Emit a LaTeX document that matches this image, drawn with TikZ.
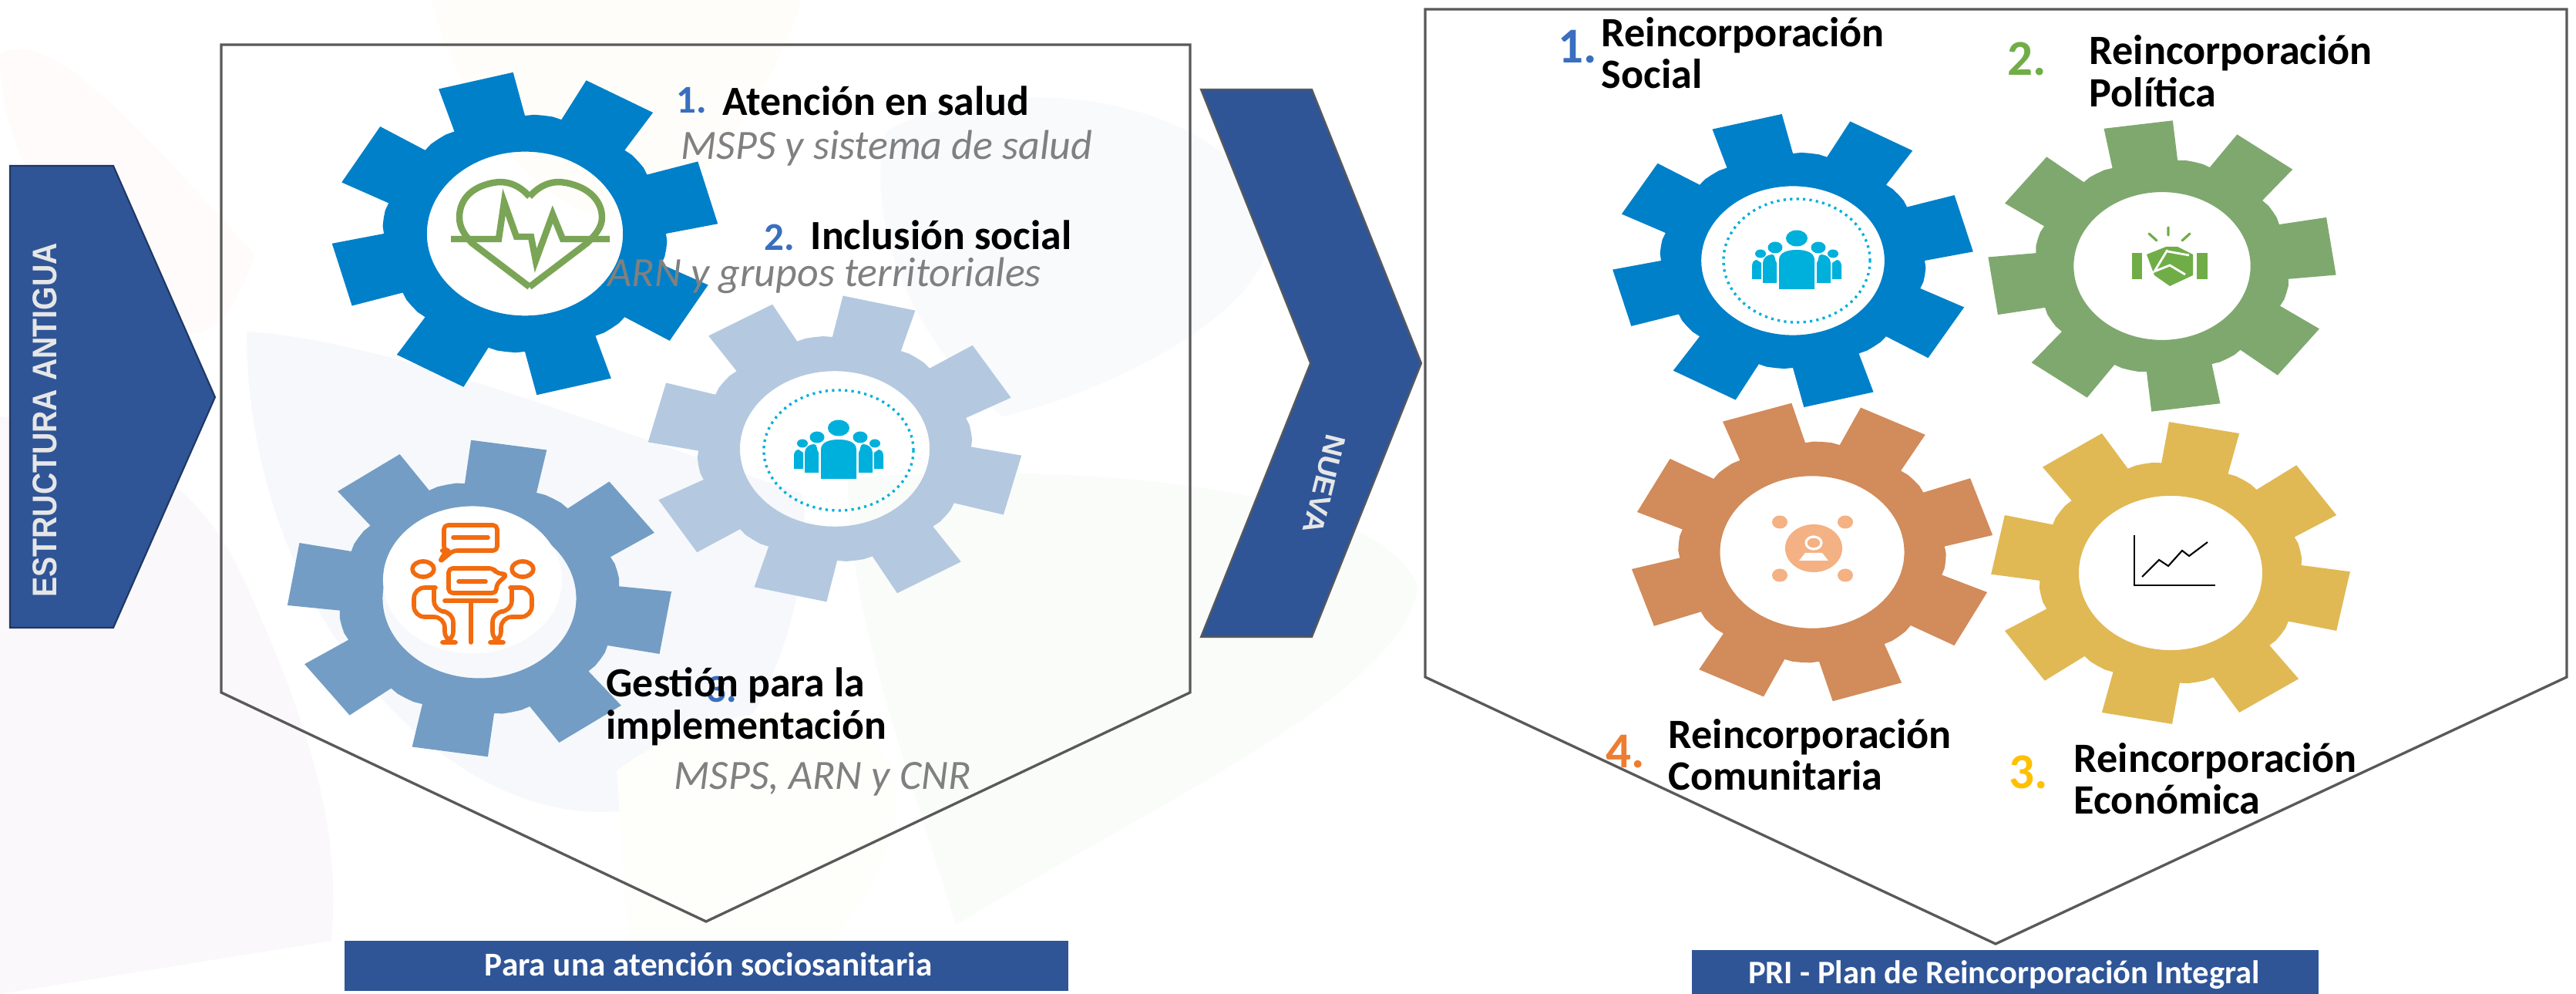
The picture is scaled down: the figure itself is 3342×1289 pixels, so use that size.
\documentclass[tikz,border=0pt]{standalone}
\usepackage{fontspec}
\usepackage{graphicx}
\setmainfont{Carlito}
\newfontfamily\arialf{Liberation Sans}
\definecolor{navy}{HTML}{2F5597}
\definecolor{navyedge}{HTML}{1F3864}
\definecolor{panelline}{HTML}{595959}
\definecolor{gblue}{HTML}{0080C8}
\definecolor{glight}{HTML}{B4C9E0}
\definecolor{gdark}{HTML}{739DC4}
\definecolor{ggreen}{HTML}{7FA86F}
\definecolor{gorange}{HTML}{D28B5A}
\definecolor{gyellow}{HTML}{E0B955}
\definecolor{cyanicon}{HTML}{00B0DC}
\definecolor{heartgreen}{HTML}{7AA556}
\definecolor{talkorange}{HTML}{F26B0F}
\definecolor{peach}{HTML}{F4B183}
\definecolor{shakegreen}{HTML}{70AD47}
\definecolor{numblue}{HTML}{3A6EBE}
\definecolor{numgreen}{HTML}{70AD47}
\definecolor{numorange}{HTML}{ED7D31}
\definecolor{numyellow}{HTML}{FFC000}
\definecolor{subgray}{HTML}{808080}
\definecolor{capgray}{HTML}{E6E6E6}
\definecolor{wmpink}{HTML}{FEFBFA}
\definecolor{wmyellow}{HTML}{FFFDF9}
\definecolor{wmlilac}{HTML}{FAF8FA}
\definecolor{wmblue}{HTML}{F6F8FB}
\definecolor{wmsky}{HTML}{F8FAFC}
\definecolor{wmgreen}{HTML}{FAFCFA}
\definecolor{wmcream}{HTML}{FEFEFA}
\newcommand{\gearshape}[7]{%
  \fill[#7,even odd rule] ({#1+#3*cos(#5-15)},{#2-#4*sin(#5-15)})
  \foreach \k in {0,...,7}{\foreach \o/\r in {-15/1,-11.5/1.37,11.5/1.37,15/1,18.75/1.01,22.5/1.01,26.25/1.01}{
    -- ({#1+#3*\r*cos(#5+45*\k+\o)},{#2-#4*\r*sin(#5+45*\k+\o)})}} -- cycle
  (#1,#2) ellipse [x radius=#6*#3*0.01cm,y radius=#6*#4*0.01cm];}
\newcommand{\peopleicon}[2]{%
  \begin{scope}[shift={(#1,#2)}]
  \fill[cyanicon] (0,0) ellipse [x radius=0.14cm,y radius=0.105cm];
  \fill[cyanicon] (-28,12) ellipse [x radius=0.095cm,y radius=0.075cm];
  \fill[cyanicon] (28,12) ellipse [x radius=0.095cm,y radius=0.075cm];
  \fill[cyanicon] (-47,20) ellipse [x radius=0.07cm,y radius=0.055cm];
  \fill[cyanicon] (47,20) ellipse [x radius=0.07cm,y radius=0.055cm];
  \fill[cyanicon] (-23,66) -- (-23,28) to[out=90,in=180] (0,15) to[out=0,in=90] (23,28) -- (23,66) -- cycle;
  \fill[cyanicon] (-26,58) -- (-26,32) to[out=130,in=0] (-32,21) to[out=180,in=90] (-44,32) -- (-44,58) -- cycle;
  \fill[cyanicon] (26,58) -- (26,32) to[out=50,in=180] (32,21) to[out=0,in=90] (44,32) -- (44,58) -- cycle;
  \fill[cyanicon] (-46,53) -- (-46,32) -- (-52,28) to[out=180,in=90] (-58,36) -- (-58,53) -- cycle;
  \fill[cyanicon] (46,53) -- (46,32) -- (52,28) to[out=0,in=90] (58,36) -- (58,53) -- cycle;
  \end{scope}}
\tikzset{
  panel/.style={draw=panelline,line width=0.95pt,line join=miter},
  chev/.style={fill=navy,draw=#1,line width=0.6pt},
  head/.style={anchor=base west,inner sep=0pt,yshift=-0.04cm,font=\bfseries\fontsize{15.3}{18}\selectfont,text=black},
  headr/.style={anchor=base west,inner sep=0pt,yshift=-0.05cm,font=\bfseries\fontsize{15.4}{18}\selectfont,text=black},
  sub/.style={anchor=base west,inner sep=0pt,yshift=-0.06cm,font=\itshape\fontsize{15.35}{18}\selectfont,text=subgray},
  numl/.style={anchor=base west,inner sep=0pt,yshift=-0.05cm,font=\bfseries\fontsize{14.5}{16}\selectfont,text=#1},
  numr/.style={anchor=base west,inner sep=0pt,yshift=-0.05cm,font=\bfseries\fontsize{18.5}{20}\selectfont,text=#1},
  caption/.style={anchor=base,inner sep=0pt,font=\bfseries\fontsize{#1}{14}\selectfont,text=white},
  dots/.style={draw=cyanicon,line width=0.95pt,dash pattern=on 0.9pt off 1.5pt}
}
\begin{document}
\begin{tikzpicture}[x=0.01cm,y=-0.01cm]
\useasboundingbox (0,0) rectangle (3342,1289);
\fill[white] (0,0) rectangle (3342,1289);
% faint watermark
\fill[wmpink] (0,70) .. controls (60,40) and (140,120) .. (330,330) .. controls (300,420) and (260,470) .. (180,400) .. controls (100,330) and (0,220) .. (0,70) -- cycle;
\fill[wmyellow] (560,0) -- (1040,0) .. controls (980,180) and (860,300) .. (780,280) .. controls (680,260) and (590,120) .. (560,0) -- cycle;
\fill[wmlilac] (0,540) .. controls (150,560) and (260,620) .. (320,760) .. controls (420,980) and (440,1100) .. (430,1220) -- (0,1289) -- cycle;
\fill[wmblue] (320,430) .. controls (500,440) and (800,560) .. (1040,640) .. controls (1060,740) and (1000,980) .. (860,1040) .. controls (620,1120) and (320,820) .. (320,430) -- cycle;
\fill[wmsky] (1150,170) .. controls (1300,90) and (1560,120) .. (1640,260) .. controls (1700,400) and (1400,520) .. (1300,540) .. controls (1180,440) and (1120,280) .. (1150,170) -- cycle;
\fill[wmgreen] (1100,620) .. controls (1350,600) and (1780,620) .. (1840,760) .. controls (1820,900) and (1500,1040) .. (1240,1200) .. controls (1180,1000) and (1100,800) .. (1100,620) -- cycle;
\fill[wmcream] (800,1000) .. controls (900,920) and (1100,880) .. (1160,1000) .. controls (1180,1100) and (1100,1220) .. (1000,1289) -- (820,1289) -- cycle;
% left arrow
\draw[chev=navyedge] (13,215) -- (147,215) -- (279,515) -- (147,814) -- (13,814) -- cycle;
\node[rotate=90,anchor=base,inner sep=0pt,text=capgray,font=\arialf\bfseries\fontsize{12.6}{14}\selectfont] (oldlabel) at (73,545) {\scalebox{0.885}[1]{ESTRUCTURA ANTIGUA}};
% left panel
\draw[panel] (287,58) -- (1544,58) -- (1544,898) -- (916,1195) -- (287,898) -- cycle;
% gears left
\gearshape{681}{303}{183}{153}{105}{0.695}{gblue}
\gearshape{1083}{582}{177}{145}{76}{0.695}{glight}
\gearshape{622}{776}{182}{150}{81}{0.69}{gdark}
% heart
\begin{scope}[heartgreen,line width=2.4pt,line join=miter]
\draw (687,255) .. controls (672,238) and (655,234) .. (640,237) .. controls (608,243) and (596,262) .. (596,282) .. controls (596,295) and (603,305) .. (612,315) -- (687,372);
\draw (687,255) .. controls (702,238) and (719,234) .. (734,237) .. controls (766,243) and (781,262) .. (781,282) .. controls (781,295) and (772,305) .. (762,315) -- (687,372);
\draw (585,310) -- (647,310) -- (654,262) -- (670,307) -- (689,307) -- (695,338) -- (717,278) -- (730,310) -- (791,310);
\end{scope}
\draw[dots] (1088,584) ellipse [x radius=0.97cm,y radius=0.78cm];
\peopleicon{1088}{555}
% talk icon
\fill[white] (613,752) ellipse [x radius=1.16cm,y radius=0.955cm];
\begin{scope}[talkorange,line width=1.6pt,line cap=round,line join=round]
\draw[rounded corners=1.5pt] (588,714) -- (570,729) -- (579,714) -- (576,714) -- (576,681) -- (645,681) -- (645,714) -- cycle;
\draw (588,697) -- (633,697);
\draw[rounded corners=1.5pt] (582,737) -- (640,737) -- (644,743) -- (658,745) -- (644,758) -- (644,769) -- (582,769) -- cycle;
\draw (595,754) -- (630,754);
\draw (549,738) ellipse [x radius=0.14cm,y radius=0.1cm];
\draw (678,738) ellipse [x radius=0.14cm,y radius=0.1cm];
\draw[rounded corners=4pt] (565,762) -- (537,762) -- (537,800) -- (577,800) -- (577,833) -- (588,833) -- (588,793) -- (563,793) -- (563,762);
\draw[rounded corners=4pt] (662,762) -- (690,762) -- (690,800) -- (650,800) -- (650,833) -- (639,833) -- (639,793) -- (664,793) -- (664,762);
\draw (577,779) -- (644,779);
\draw (611,779) -- (611,833);
\end{scope}
% left text
\node[numl=numblue] (n1a) at (877,142) {1.};
\node[head] (t1a) at (937,146) {Atención en salud};
\node[sub] (s1a) at (883,201) {MSPS y sistema de salud};
\node[numl=numblue] (n2a) at (991,320) {2.};
\node[head] (t2a) at (1051,320) {Inclusión social};
\node[sub] (s2a) at (788,366) {ARN y grupos territoriales};
\node[numl=numblue] (n3a) at (916,905) {3.};
\node[head] (t3a) at (786,900) {Gestión para la};
\node[head] (t3b) at (786,955) {implementación};
\node[sub] (s3a) at (874,1017) {MSPS, ARN y CNR};
% caption left
\fill[navy] (447,1220) rectangle (1386,1285);
\node[caption=12.3] (capl) at (919,1265) {Para una atención sociosanitaria};
% Nueva arrow
\draw[chev=panelline] (1558,116) -- (1702,116) -- (1844,471) -- (1702,826) -- (1558,826) -- (1700,471) -- cycle;
\node[rotate=-104,inner sep=0pt,text=capgray,font=\arialf\bfseries\fontsize{10.6}{13}\selectfont] (newlabel) at (1718,628) {\scalebox{1.03}[1]{NUEVA}};
% right panel
\draw[panel] (1849,12) -- (3330,12) -- (3330,878) -- (2589,1224) -- (1849,878) -- cycle;
% gears right
\gearshape{2326}{338}{171}{139}{105}{0.695}{gblue}
\gearshape{2805}{345}{165}{138}{98}{0.695}{ggreen}
\gearshape{2351}{716}{172}{142}{108}{0.695}{gorange}
\gearshape{2816}{743}{170}{143}{79}{0.70}{gyellow}
\draw[dots] (2331,338) ellipse [x radius=0.95cm,y radius=0.8cm];
\peopleicon{2331}{309}
% handshake
\begin{scope}[shakegreen]
\draw[line width=0.9pt,line cap=round] (2813,295) -- (2813,305) (2788,303) -- (2798,312) (2841,303) -- (2831,312);
\fill (2766,328) rectangle (2779,362);
\fill (2850,328) rectangle (2864,362);
\fill (2785,330) -- (2810,320) -- (2825,320) -- (2845,330) -- (2845,357) -- (2815,371) -- (2795,357) -- cycle;
\draw[white,line width=0.8pt] (2812,324) -- (2795,352) -- (2815,344) -- (2835,356);
\draw[white,line width=0.8pt] (2812,326) -- (2840,331);
\end{scope}
% community icon
\begin{scope}[peach]
\fill (2353,711) ellipse [x radius=0.37cm,y radius=0.31cm];
\fill (2309,677) ellipse [x radius=0.1cm,y radius=0.085cm];
\fill (2394,677) ellipse [x radius=0.1cm,y radius=0.085cm];
\fill (2309,746) ellipse [x radius=0.1cm,y radius=0.085cm];
\fill (2394,746) ellipse [x radius=0.1cm,y radius=0.085cm];
\draw[white,line width=0.9pt] (2353,704) ellipse [x radius=0.1cm,y radius=0.08cm];
\fill[white] (2334,727) -- (2342,717) -- (2364,717) -- (2372,727) -- cycle;
\end{scope}
% chart icon
\draw[black,line width=0.8pt] (2769,694) -- (2769,759) -- (2874,759);
\draw[black,line width=0.6pt] (2779,748) -- (2801,726) -- (2813,734) -- (2831,714) -- (2840,721) -- (2864,703);
% right text
\node[numr=numblue] (n1b) at (2021,77) {1.};
\node[headr] (t1b) at (2077,56) {Reincorporación};
\node[headr] (t1c) at (2077,110) {Social};
\node[numr=numgreen] (n2b) at (2604,93) {2.};
\node[headr] (t2b) at (2710,79) {Reincorporación};
\node[headr] (t2c) at (2710,134) {Política};
\node[numr=numorange] (n4b) at (2083,990) {4.};
\node[headr] (t4b) at (2164,965) {Reincorporación};
\node[headr] (t4c) at (2164,1019) {Comunitaria};
\node[numr=numyellow] (n3b) at (2606,1017) {3.};
\node[headr] (t3c) at (2690,996) {Reincorporación};
\node[headr] (t3d) at (2690,1050) {Económica};
% caption right
\fill[navy] (2195,1232) rectangle (3008,1289);
\node[caption=12.1] (capr) at (2600,1275) {PRI - Plan de Reincorporación Integral};
\end{tikzpicture}
\end{document}
